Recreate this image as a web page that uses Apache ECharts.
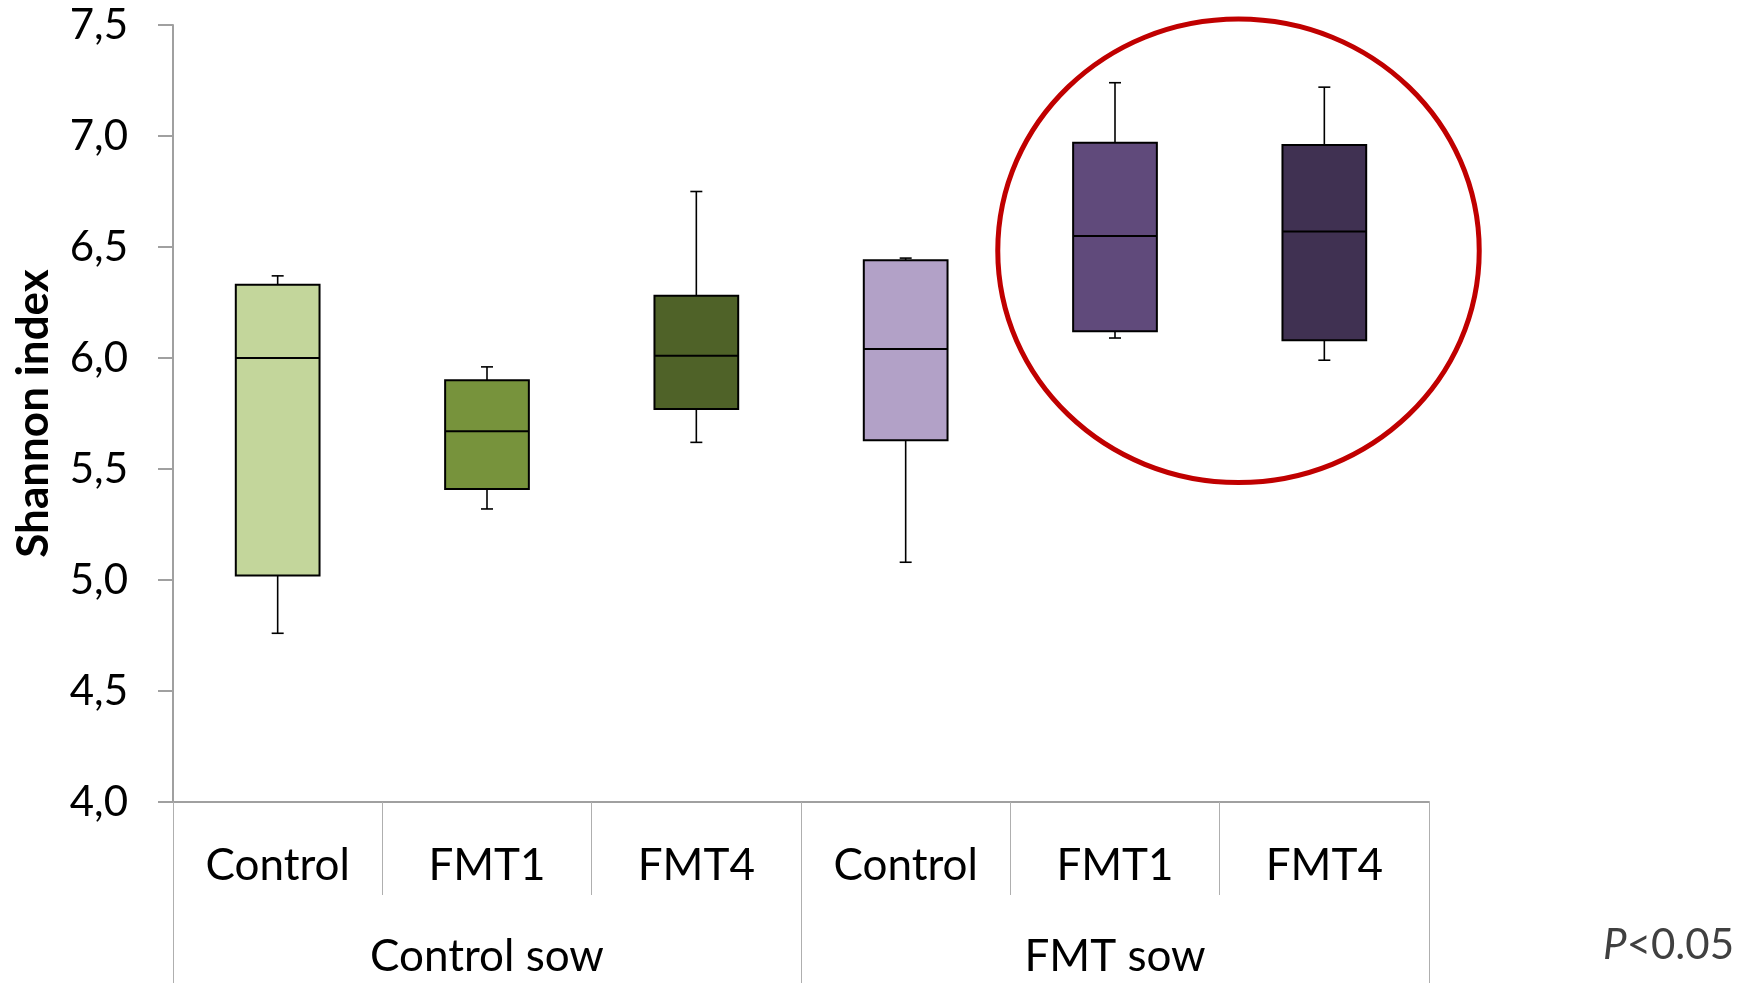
<!DOCTYPE html>
<html>
<head>
<meta charset="utf-8">
<script src="https://cdn.jsdelivr.net/npm/echarts@6/dist/echarts.min.js"></script>
<style>
html,body{margin:0;padding:0;background:#fff;}
#chart{width:1748px;height:983px;}
</style>
</head>
<body>
<div id="chart"></div>
<script>
// ---- data ----
const categories = ['Control', 'FMT1', 'FMT4', 'Control', 'FMT1', 'FMT4'];
const groups = ['Control sow', 'FMT sow'];
const mins    = [4.76, 5.32, 5.62, 5.08, 6.09, 5.99];
const q1s     = [5.02, 5.41, 5.77, 5.63, 6.12, 6.08];
const medians = [6.00, 5.67, 6.01, 6.04, 6.55, 6.57];
const q3s     = [6.33, 5.90, 6.28, 6.44, 6.97, 6.96];
const maxs    = [6.37, 5.96, 6.75, 6.45, 7.24, 7.22];
const boxColors = ['#C3D69B', '#77933C', '#4F6228', '#B2A1C7', '#604A7B', '#403152'];
const yTicks = { min: 4.0, max: 7.5, interval: 0.5 };
const yName = 'Shannon index';
const pText = 'P<0.05';
// highlighted region (data coords): center category position, value, radii in category units / value units
const highlight = { cx: 4.59, cy: 6.483, rx: 1.15, ry: 1.044 };

const FONT = 'Lato';
const seriesData = categories.map((c, i) => [i, mins[i], q1s[i], medians[i], q3s[i], maxs[i]]);

const chart = echarts.init(document.getElementById('chart'), null, { renderer: 'canvas' });

function renderItem(params, api) {
  const i = api.value(0);
  const pMin = api.coord([i, api.value(1)]);
  const pQ1 = api.coord([i, api.value(2)]);
  const pMed = api.coord([i, api.value(3)]);
  const pQ3 = api.coord([i, api.value(4)]);
  const pMax = api.coord([i, api.value(5)]);
  const cx = pMed[0];
  const w = api.size([1, 0])[0] * 0.4;
  const cap = 6;
  const wStyle = { stroke: '#000', lineWidth: 1.6 };
  return {
    type: 'group',
    children: [
      { type: 'line', shape: { x1: cx, y1: pQ3[1], x2: cx, y2: pMax[1] }, style: wStyle },
      { type: 'line', shape: { x1: cx - cap, y1: pMax[1], x2: cx + cap, y2: pMax[1] }, style: wStyle },
      { type: 'line', shape: { x1: cx, y1: pQ1[1], x2: cx, y2: pMin[1] }, style: wStyle },
      { type: 'line', shape: { x1: cx - cap, y1: pMin[1], x2: cx + cap, y2: pMin[1] }, style: wStyle },
      { type: 'rect', shape: { x: cx - w / 2, y: pQ3[1], width: w, height: pQ1[1] - pQ3[1] },
        style: { fill: boxColors[i], stroke: '#000', lineWidth: 2 } },
      { type: 'line', shape: { x1: cx - w / 2, y1: pMed[1], x2: cx + w / 2, y2: pMed[1] },
        style: { stroke: '#000', lineWidth: 2 } }
    ]
  };
}

chart.setOption({
  animation: false,
  backgroundColor: '#fff',
  grid: { left: 173, right: 319, top: 25, bottom: 181, containLabel: false },
  xAxis: [
    {
      type: 'category', data: categories, position: 'bottom', gridIndex: 0,
      boundaryGap: true,
      axisLine: { show: true, lineStyle: { color: '#A0A0A0', width: 2 } },
      axisTick: { show: true, alignWithLabel: false, interval: 0, length: 93, lineStyle: { color: '#AFAFAF', width: 1 } },
      axisLabel: { interval: 0, margin: 42, color: '#000', fontFamily: FONT, fontSize: 44 },
      splitLine: { show: false }
    },
    {
      type: 'category', data: groups, position: 'bottom', gridIndex: 0, offset: 0,
      boundaryGap: true,
      axisLine: { show: false },
      axisTick: { show: true, alignWithLabel: false, interval: 0, length: 190, lineStyle: { color: '#AFAFAF', width: 1 } },
      axisLabel: { interval: 0, margin: 133, color: '#000', fontFamily: FONT, fontSize: 44 },
      splitLine: { show: false }
    }
  ],
  yAxis: {
    type: 'value', min: yTicks.min, max: yTicks.max, interval: yTicks.interval,
    name: yName, nameLocation: 'middle', nameGap: 117,
    nameTextStyle: { fontFamily: FONT, fontWeight: 'bold', fontSize: 44, color: '#000' },
    axisLine: { show: true, lineStyle: { color: '#A0A0A0', width: 2 } },
    axisTick: { show: true, length: 15, lineStyle: { color: '#A0A0A0', width: 2 } },
    axisLabel: { margin: 45, color: '#000', fontFamily: FONT, fontSize: 42,
      formatter: v => v.toFixed(1).replace('.', ',') },
    splitLine: { show: false }
  },
  series: [{
    type: 'custom', xAxisIndex: 0, yAxisIndex: 0,
    renderItem: renderItem,
    encode: { x: 0, y: [1, 2, 3, 4, 5] },
    data: seriesData
  }]
});

// annotation ellipse derived from axis scales
const a = chart.convertToPixel({ gridIndex: 0 }, [4, highlight.cy]);
const b = chart.convertToPixel({ gridIndex: 0 }, [5, highlight.cy]);
const c = chart.convertToPixel({ gridIndex: 0 }, [4, highlight.cy + highlight.ry]);
const step = b[0] - a[0];
chart.setOption({
  graphic: [
    {
      type: 'ellipse', z: 100,
      shape: { cx: a[0] + (highlight.cx - 4) * step, cy: a[1], rx: highlight.rx * step, ry: a[1] - c[1] },
      style: { fill: 'none', stroke: '#C00000', lineWidth: 5 }
    },
    {
      type: 'text', right: 14, top: 924, z: 100,
      style: {
        text: '{i|P}{n|<0.05}',
        rich: {
          i: { fontFamily: FONT, fontStyle: 'italic', fontSize: 42, fill: '#404040' },
          n: { fontFamily: FONT, fontSize: 42, fill: '#404040' }
        }
      }
    }
  ]
});
</script>
</body>
</html>
